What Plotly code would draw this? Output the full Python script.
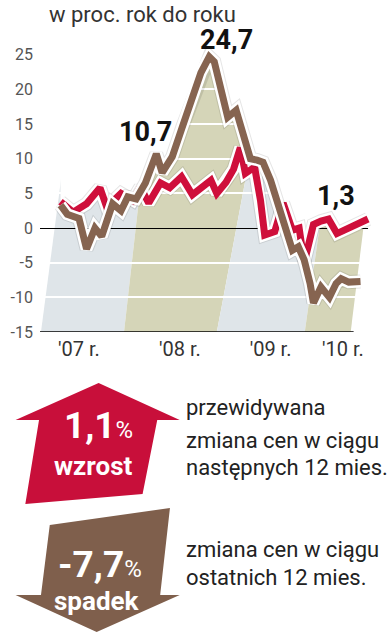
import numpy as np
import plotly.graph_objects as go

# ---------------- data ----------------
# x = months since the start of the series (Jan 2007 ~ 0), y = % y/y
brown_months = [0.0, 0.8, 2.2, 3.1, 4.1, 4.9, 6.2, 7.2, 8.0, 9.0, 10.1, 10.9, 11.4, 12.1,
                13.3, 14.5, 15.7, 16.7, 17.7, 18.3, 19.2, 19.9, 20.9, 21.9, 22.6, 23.4,
                24.1, 25.0, 25.8, 26.7, 27.6, 28.3, 29.0, 29.7, 30.1, 31.0, 32.0, 32.8,
                33.4, 34.3, 35.7]
brown_values = [3.3, 2.0, 1.4, -3.0, 0.0, -1.2, 3.5, 2.5, 4.5, 4.2, 6.5, 9.5, 10.7, 8.0,
                10.3, 14.6, 18.9, 22.4, 24.7, 24.0, 19.5, 16.0, 17.0, 12.5, 10.0, 9.8,
                9.5, 6.9, 3.6, 0.0, -3.2, -2.7, -4.6, -8.0, -10.8, -8.5, -10.0, -8.0,
                -7.3, -7.8, -7.7]

red_months = [0.0, 1.5, 3.1, 4.7, 5.5, 6.4, 7.2, 8.6, 9.5, 10.5, 11.9, 13.0, 14.4, 15.7,
              16.7, 17.9, 18.6, 19.7, 20.6, 21.4, 22.0, 23.1, 23.8, 24.3, 25.5, 26.5,
              27.6, 28.4, 29.0, 30.1, 31.0, 31.9, 32.9, 34.2, 36.6]
red_values = [3.8, 2.3, 3.5, 5.8, 3.0, 4.0, 5.0, 4.0, 5.9, 3.6, 6.5, 5.8, 7.4, 4.8,
              5.8, 6.9, 5.0, 6.6, 8.5, 11.6, 7.9, 8.8, 4.0, -1.0, -0.5, 3.6,
              -0.3, 0.0, -5.0, 0.5, 1.0, 1.3, -0.8, 0.0, 1.3]

y_ticks = [-15, -10, -5, 0, 5, 10, 15, 20, 25]
x_tick_pos = [2.2, 14.2, 25.0, 33.6]
x_tick_labels = ["'07 r.", "'08 r.", "'09 r.", "'10 r."]

forecast_change = 1.1     # przewidywana zmiana cen
last12_change = -7.7      # zmiana cen w ciągu ostatnich 12 mies.

# ---------------- geometry / style ----------------
W, H = 391, 640
L, R, T, B = 32, 380, 34, 332          # plot box in pixels
Y0, Y1 = -15, 28
PX_PER_MONTH = 8.6
X_ORIGIN_PX = 53
XMIN = (L - X_ORIGIN_PX) / PX_PER_MONTH
XMAX = (R - X_ORIGIN_PX) / PX_PER_MONTH

RED = "#cf0f3b"
BROWN = "#866450"
ARROW_RED = "#c80f3a"
ARROW_BROWN = "#7f5f4c"
LIGHT = "#dfe5e9"
KHAKI = "#d5d5b8"
FONT = "Roboto"


def fmt(v):
    return f"{v:.1f}".replace(".", ",")


def dx(px):   # pixel -> data x
    return (px - X_ORIGIN_PX) / PX_PER_MONTH


def dy(py):   # pixel -> data y
    return Y0 + (B - py) / (B - T) * (Y1 - Y0)


def pxp(px):  # pixel -> paper x
    return (px - L) / (R - L)


def pyp(py):  # pixel -> paper y
    return (B - py) / (B - T)


fig = go.Figure()

# ---------------- background stripes (perspective bands) ----------------
bounds = [(33, 47), (118, 130), (213, 233), (303, 318), (350, 363)]  # x at bottom, x at zero level


def bx(b, py):
    xb, x0 = b
    return xb + (x0 - xb) * (B - py) / (B - 228)


shapes = []
band_cols = [LIGHT, KHAKI, LIGHT, KHAKI]
for i, col in enumerate(band_cols):
    b1, b2 = bounds[i], bounds[i + 1]
    pts = [(bx(b1, B), B), (bx(b2, B), B), (bx(b2, T), T), (bx(b1, T), T)]
    path = "M " + " L ".join(f"{dx(p[0])},{dy(p[1])}" for p in pts) + " Z"
    shapes.append(dict(type="path", path=path, xref="x", yref="y", fillcolor=col,
                       line=dict(width=0), layer="below"))

# bottom axis line
shapes.append(dict(type="line", xref="x", yref="y", x0=XMIN, x1=dx(353), y0=Y0, y1=Y0,
                   line=dict(color="black", width=1.5), layer="above"))

# ---------------- white mask above the upper envelope of both lines ----------------
mr, vr = np.array(red_months), np.array(red_values)
mb, vb = np.array(brown_months), np.array(brown_values)
xs = np.union1d(mr, mb)
env_r = np.interp(xs, mr, vr)
env_b = np.interp(xs, mb, vb)
env = np.where(xs <= mb[-1], np.maximum(env_r, env_b), env_r)
xs_ext = np.concatenate([xs, [xs[-1] + 0.01, XMAX + 1]])
env_ext = np.concatenate([env, [Y0, Y0]])

fig.add_trace(go.Scatter(x=xs_ext, y=env_ext, mode="lines", line=dict(width=0),
                         hoverinfo="skip", showlegend=False))
fig.add_trace(go.Scatter(x=xs_ext, y=[Y1 + 1] * len(xs_ext), mode="lines",
                         line=dict(width=0), fill="tonexty", fillcolor="white",
                         hoverinfo="skip", showlegend=False))

# ---------------- lines with white halo ----------------
for m, v, col in [(red_months, red_values, RED), (brown_months, brown_values, BROWN)]:
    fig.add_trace(go.Scatter(x=m, y=v, mode="lines",
                             line=dict(color="rgba(0,0,0,0.10)", width=14),
                             hoverinfo="skip", showlegend=False))
    fig.add_trace(go.Scatter(x=m, y=v, mode="lines", line=dict(color="white", width=12),
                             hoverinfo="skip", showlegend=False))
    fig.add_trace(go.Scatter(x=m, y=v, mode="lines", line=dict(color=col, width=7),
                             showlegend=False))

# ---------------- value labels ----------------
i_local = int(np.argmin(np.abs(mb - 11.4)))
i_peak = int(np.argmax(vb))
i_red = int(np.argmin(np.abs(mr - 31.9)))
labels = [
    (brown_months[i_local], brown_values[i_local], -11, 22),
    (brown_months[i_peak], brown_values[i_peak], 17, 17),
    (red_months[i_red], red_values[i_red], 7, 23),
]
annotations = []
for x, y, xs_, ys_ in labels:
    annotations.append(dict(x=x, y=y, xref="x", yref="y", text=f"<b>{fmt(y)}</b>",
                            showarrow=False, xshift=xs_, yshift=ys_,
                            font=dict(family=FONT, size=27, color="#111")))

# title
annotations.append(dict(x=pxp(39), y=pyp(15), xref="paper", yref="paper",
                        xanchor="left", yanchor="middle", showarrow=False,
                        text="w proc. rok do roku",
                        font=dict(family=FONT, size=22, color="#333")))

# ---------------- arrows ----------------
def ppath(pts):
    return "M " + " L ".join(f"{pxp(x)},{pyp(y)}" for x, y in pts) + " Z"


up_arrow = [(92, 383), (175, 420), (152, 420), (137, 494), (17, 504), (31, 420), (7, 420)]
down_arrow = [(42, 525), (165, 508), (155, 595), (175, 595), (90, 632), (7, 595), (33, 595)]
shapes.append(dict(type="path", path=ppath(up_arrow), xref="paper", yref="paper",
                   fillcolor=ARROW_RED, line=dict(width=0)))
shapes.append(dict(type="path", path=ppath(down_arrow), xref="paper", yref="paper",
                   fillcolor=ARROW_BROWN, line=dict(width=0)))

arrow_txt = [
    (92, 426, f"<b>{fmt(forecast_change)}</b><span style='font-size:24px'>%</span>", 37),
    (86, 466, "<b>wzrost</b>", 26),
    (93, 564, f"<b>{fmt(last12_change)}</b><span style='font-size:24px'>%</span>", 37),
    (90, 601, "<b>spadek</b>", 26),
]
for x, y, t, s in arrow_txt:
    annotations.append(dict(x=pxp(x), y=pyp(y), xref="paper", yref="paper", text=t,
                            showarrow=False, xanchor="center", yanchor="middle",
                            font=dict(family=FONT, size=s, color="white")))

side_txt = [
    (407, "przewidywana"),
    (440, "zmiana cen w ciągu"),
    (467, "następnych 12 mies."),
    (549, "zmiana cen w ciągu"),
    (577, "ostatnich 12 mies."),
]
for y, t in side_txt:
    annotations.append(dict(x=pxp(179), y=pyp(y), xref="paper", yref="paper", text=t,
                            showarrow=False, xanchor="left", yanchor="middle",
                            font=dict(family=FONT, size=22, color="#222")))

fig.update_layout(
    width=W, height=H,
    margin=dict(l=L, r=W - R, t=T, b=H - B, pad=0),
    paper_bgcolor="white", plot_bgcolor="white",
    showlegend=False,
    shapes=shapes,
    annotations=annotations,
    xaxis=dict(range=[XMIN, XMAX], showgrid=False, zeroline=False, showline=False,
               tickvals=x_tick_pos, ticktext=x_tick_labels, ticks="",
               ticklabelstandoff=3,
               tickfont=dict(family=FONT, size=20, color="#333"), fixedrange=True),
    yaxis=dict(range=[Y0, Y1], tickvals=y_ticks, ticktext=[str(v) for v in y_ticks],
               showgrid=True, gridcolor="white", gridwidth=1.5,
               zeroline=True, zerolinecolor="black", zerolinewidth=1.3,
               showline=False, ticks="", ticklabelstandoff=6,
               tickfont=dict(family=FONT, size=16, color="#555"), fixedrange=True),
)

fig.write_html("out.html", config={"displayModeBar": False},
               post_script="document.body.style.margin='0';document.body.style.overflow='hidden';")
